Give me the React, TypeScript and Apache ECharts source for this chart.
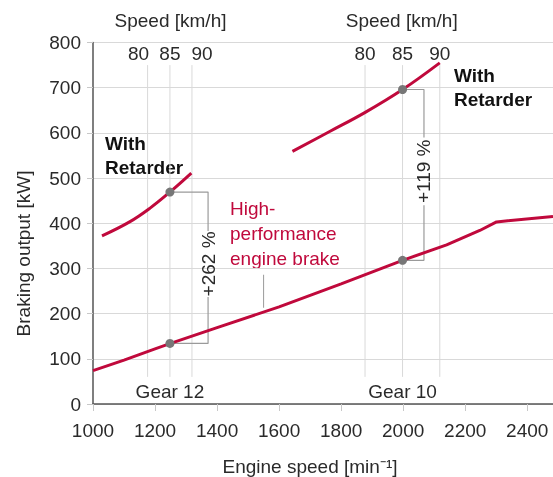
import React, { useEffect, useRef } from 'react';
import * as echarts from 'echarts';

// Engine brake (lower curve)
const brakeRpm = [1000, 1100, 1200, 1250, 1400, 1600, 1800, 1998, 2140, 2247, 2301, 2483];
const brakeKw = [74, 97, 122, 134, 169, 215, 266, 318, 352, 384, 403, 415];

// With retarder, gear 12
const ret12Rpm = [1029, 1118, 1183, 1248, 1317];
const ret12Kw = [372, 403, 433, 469, 511];

// With retarder, gear 10
const ret10Rpm = [1643, 1763, 1879, 1998, 2118];
const ret10Kw = [559, 603, 646, 696, 755];

// Speed ticks (km/h) and their engine speeds per gear
const speedTicks = [80, 85, 90];
const gear12SpeedRpm = [1176, 1248, 1319];
const gear10SpeedRpm = [1877, 1998, 2118];

// Comparison points at 85 km/h
const gear12Points = [134, 469];
const gear10Points = [318, 696];
const gear12Gain = '+262 %';
const gear10Gain = '+119 %';
const gear12BracketRpm = 1371;
const gear10BracketRpm = 2067;

const xTicks = [1000, 1200, 1400, 1600, 1800, 2000, 2200, 2400];

const FONT = '"Liberation Sans", Arial, Helvetica, sans-serif';
const TXT = '#2a2a2a';
const RED = '#c0093c';
const GRID = '#d9d9d9';
const BR = '#9a9a9a';

export default function App() {
  const ref = useRef<HTMLDivElement>(null);
  useEffect(() => {
    if (!ref.current) return;
    const chart = echarts.init(ref.current, null, { renderer: 'svg' });

    const vLine = (rpm: number) => ({
      type: 'line',
      data: [[rpm, 60], [rpm, 750]],
      symbol: 'none',
      silent: true,
      z: 1,
      lineStyle: { color: GRID, width: 1 },
    });

    const bracket = (rpm85: number, bx: number, pts: number[], gapLo: number, gapHi: number) => [
      {
        type: 'line',
        data: [[rpm85, pts[0]], [bx, pts[0]], [bx, gapLo]],
        symbol: 'none', silent: true, z: 2,
        lineStyle: { color: BR, width: 1.2 },
      },
      {
        type: 'line',
        data: [[bx, gapHi], [bx, pts[1]], [rpm85, pts[1]]],
        symbol: 'none', silent: true, z: 2,
        lineStyle: { color: BR, width: 1.2 },
      },
    ];

    const textLabel = (data: any[], extra: any = {}) => ({
      type: 'scatter',
      data,
      symbolSize: 1,
      silent: true,
      z: 5,
      itemStyle: { color: 'rgba(0,0,0,0)', opacity: 1 },
      label: {
        show: true,
        position: 'inside',
        formatter: '{b}',
        fontSize: 19,
        color: TXT,
        opacity: 1,
        textBorderWidth: 0,
        fontFamily: FONT,
        ...extra,
      },
    });

    const speedOffsets12 = [-9, 0, 10];

    const option: any = {
      animation: false,
      grid: { left: 93, right: 0, top: 42.5, bottom: 73, containLabel: false },
      xAxis: {
        type: 'value',
        min: 1000,
        max: 2483,
        interval: 200,
        axisLine: { show: true, lineStyle: { color: '#555', width: 1.5 } },
        axisTick: { show: true, length: 7, lineStyle: { color: '#c8c8c8' }, customValues: xTicks },
        axisLabel: {
          customValues: xTicks,
          formatter: (v: number) => String(v),
          fontSize: 19, color: TXT, fontFamily: FONT, margin: 17,
        },
        splitLine: { show: false },
      },
      yAxis: {
        type: 'value',
        min: 0,
        max: 800,
        interval: 100,
        axisLine: { show: true, lineStyle: { color: '#555', width: 1.5 } },
        axisTick: { show: true, length: 6, lineStyle: { color: '#c8c8c8' } },
        axisLabel: { fontSize: 19, color: TXT, fontFamily: FONT, margin: 12 },
        splitLine: { show: true, lineStyle: { color: GRID, width: 1 } },
      },
      series: [
        ...gear12SpeedRpm.map(vLine),
        ...gear10SpeedRpm.map(vLine),
        {
          type: 'line',
          data: [[1550, 286], [1550, 213]],
          symbol: 'none', silent: true, z: 2,
          lineStyle: { color: BR, width: 1 },
        },
        ...bracket(gear12SpeedRpm[1], gear12BracketRpm, gear12Points, 237, 383),
        ...bracket(gear10SpeedRpm[1], gear10BracketRpm, gear10Points, 440, 590),
        {
          type: 'line',
          data: brakeRpm.map((r, i) => [r, brakeKw[i]]),
          symbol: 'none', silent: true, z: 3,
          lineStyle: { color: RED, width: 3 },
        },
        {
          type: 'line',
          data: ret12Rpm.map((r, i) => [r, ret12Kw[i]]),
          symbol: 'none', smooth: 0.4, silent: true, z: 3,
          lineStyle: { color: RED, width: 3 },
        },
        {
          type: 'line',
          data: ret10Rpm.map((r, i) => [r, ret10Kw[i]]),
          symbol: 'none', smooth: 0.4, silent: true, z: 3,
          lineStyle: { color: RED, width: 3 },
        },
        {
          type: 'scatter',
          data: [
            [gear12SpeedRpm[1], gear12Points[0]],
            [gear12SpeedRpm[1], gear12Points[1]],
            [gear10SpeedRpm[1], gear10Points[0]],
            [gear10SpeedRpm[1], gear10Points[1]],
          ],
          symbolSize: 9, silent: true, z: 4,
          itemStyle: { color: '#777', opacity: 1 },
        },
        textLabel([
          ...speedTicks.map((s, i) => ({
            name: String(s),
            value: [gear12SpeedRpm[i], 776],
            label: { offset: [speedOffsets12[i], 0] },
          })),
          ...speedTicks.map((s, i) => ({ name: String(s), value: [gear10SpeedRpm[i], 776] })),
          { name: 'Gear 12', value: [gear12SpeedRpm[1], 27] },
          { name: 'Gear 10', value: [gear10SpeedRpm[1], 27] },
        ]),
        textLabel([
          { name: gear12Gain, value: [gear12BracketRpm, 310] },
          { name: gear10Gain, value: [gear10BracketRpm, 515] },
        ], { rotate: 90 }),
      ],
      graphic: [
        { type: 'text', x: 170.5, y: 20.7, silent: true,
          style: { text: 'Speed [km/h]', fontSize: 19, fill: TXT, fontFamily: FONT, align: 'center', verticalAlign: 'middle' } },
        { type: 'text', x: 401.7, y: 20.7, silent: true,
          style: { text: 'Speed [km/h]', fontSize: 19, fill: TXT, fontFamily: FONT, align: 'center', verticalAlign: 'middle' } },
        { type: 'text', x: 310, y: 466.7, silent: true,
          style: { text: 'Engine speed [min⁻¹]', fontSize: 19, fill: TXT, fontFamily: FONT, align: 'center', verticalAlign: 'middle' } },
        { type: 'text', x: 23.5, y: 253.5, rotation: Math.PI / 2, silent: true,
          style: { text: 'Braking output [kW]', fontSize: 19, fill: TXT, fontFamily: FONT, align: 'center', verticalAlign: 'middle' } },
        { type: 'text', x: 230, y: 196, silent: true,
          style: { text: 'High-\nperformance\nengine brake', fontSize: 19, lineHeight: 25, fill: RED, fontFamily: FONT, align: 'left', verticalAlign: 'top' } },
        { type: 'text', x: 105, y: 131, silent: true,
          style: { text: 'With\nRetarder', fontSize: 19, lineHeight: 24, fontWeight: 'bold', fill: '#111', fontFamily: FONT, align: 'left', verticalAlign: 'top' } },
        { type: 'text', x: 454, y: 63, silent: true,
          style: { text: 'With\nRetarder', fontSize: 19, lineHeight: 24, fontWeight: 'bold', fill: '#111', fontFamily: FONT, align: 'left', verticalAlign: 'top' } },
      ],
    };
    chart.setOption(option);
    return () => chart.dispose();
  }, []);
  return <div ref={ref} style={{ position: 'fixed', left: 0, top: 0, width: 553, height: 477 }} />;
}
